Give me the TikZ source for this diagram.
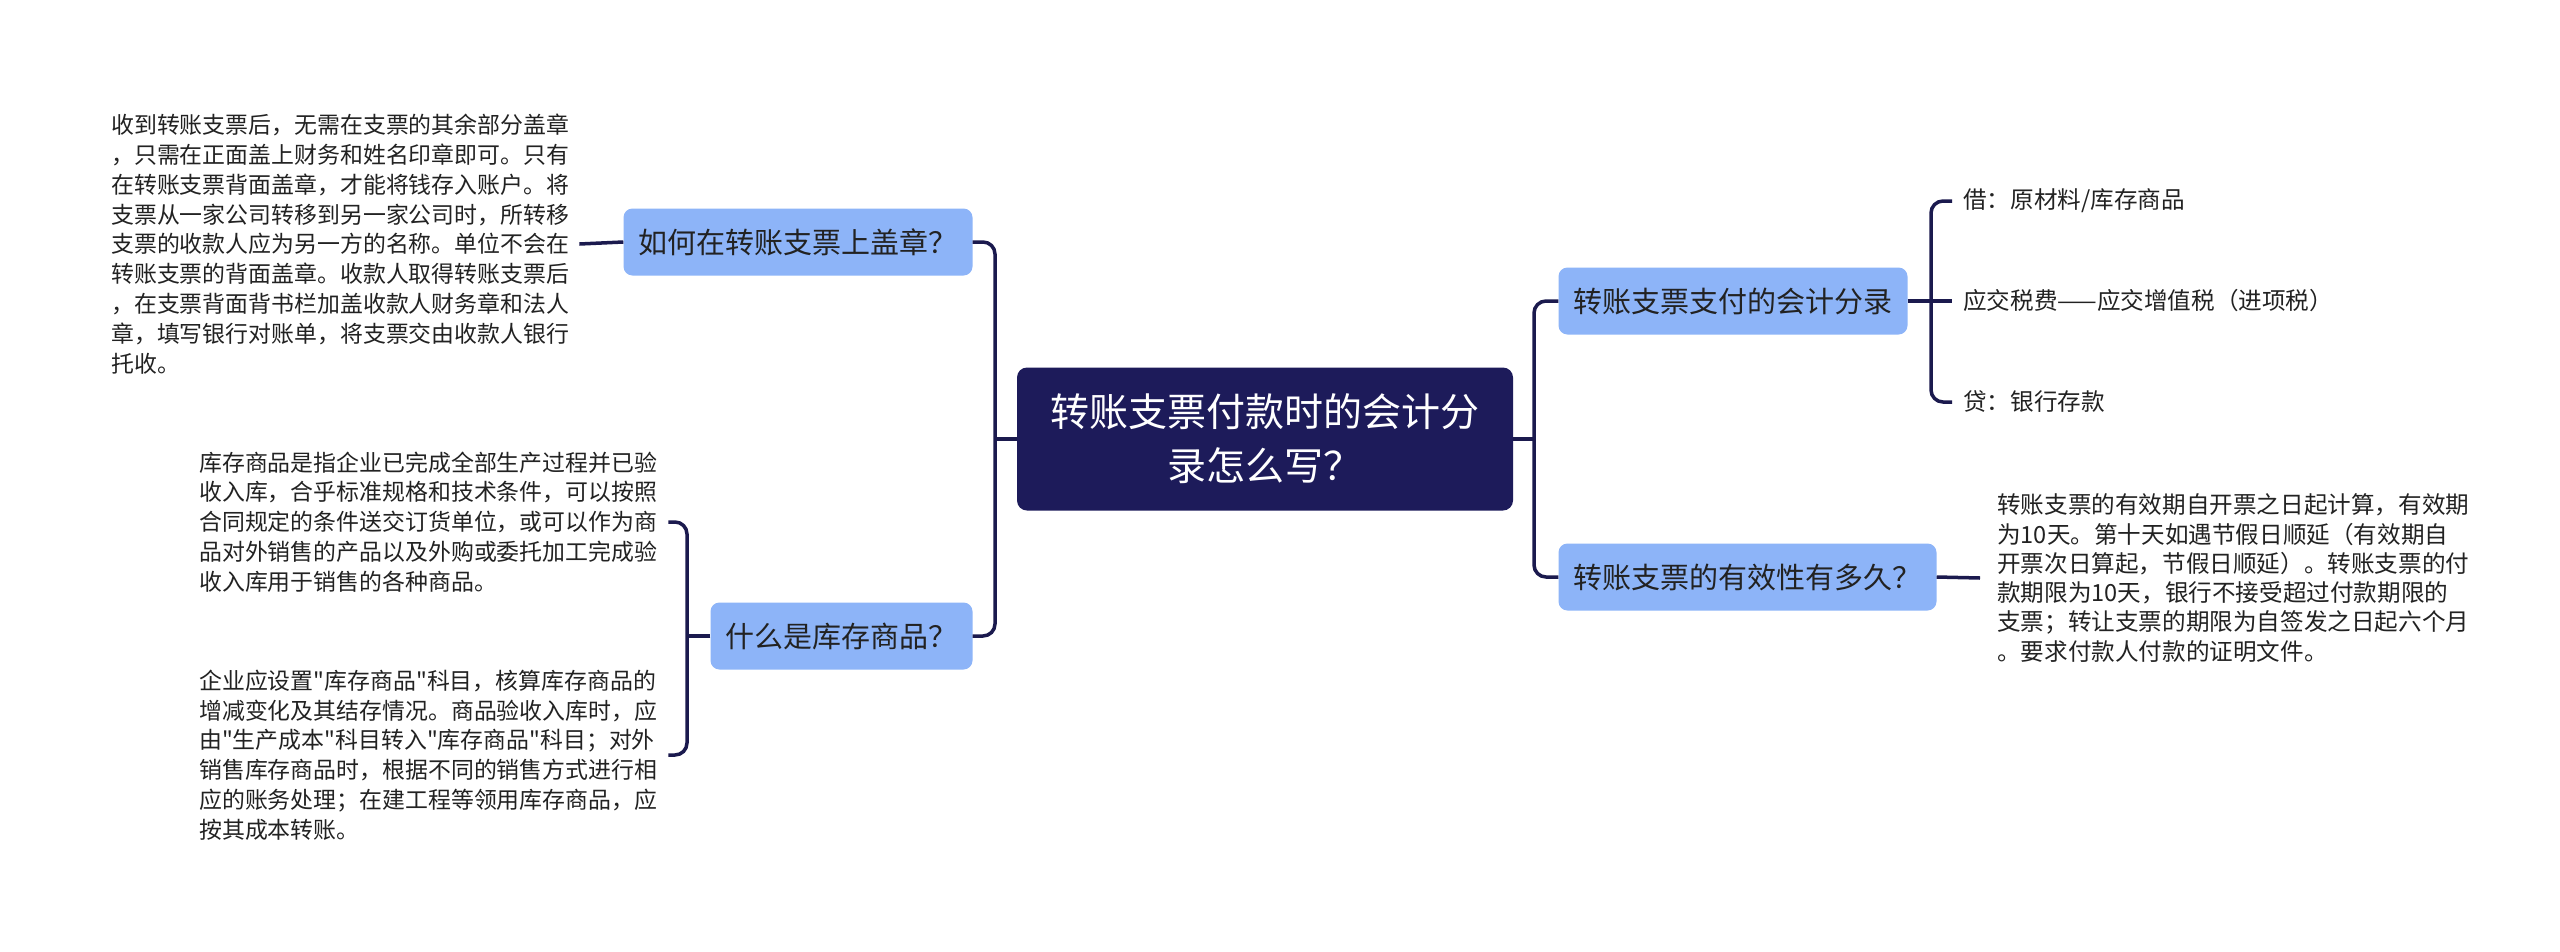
\documentclass[tikz,border=0pt]{standalone}
\usepackage{fontspec}
\newfontfamily\cjk{Noto Sans CJK SC}
\definecolor{navy}{HTML}{1D1B5A}
\definecolor{qblue}{HTML}{8DB4F8}
\definecolor{linec}{HTML}{1B1A4E}
\definecolor{txt}{HTML}{222222}
\begin{document}
\begin{tikzpicture}[x=1pt,y=-1pt,
  conn/.style={draw=linec, line width=3.5pt, rounded corners=12pt},
  rootn/.style={fill=navy, rounded corners=10pt, text=white, align=center,
    minimum width=496pt, minimum height=143pt, inner sep=0pt,
    font=\cjk\fontsize{39}{54}\selectfont},
  topic/.style={fill=qblue, rounded corners=9pt, text=txt, minimum height=67pt,
    inner xsep=15pt, inner ysep=0pt, font=\cjk\fontsize{29}{35}\selectfont},
  leftnote/.style={anchor=west, align=left, text width=456pt, inner sep=0pt,
    text=txt, font=\cjk\fontsize{22.9}{29.8}\selectfont},
  rightnote/.style={anchor=west, align=left, inner sep=0pt, text=txt,
    font=\cjk\fontsize{23.6}{29.3}\selectfont}]
\useasboundingbox[fill=white] (0,0) rectangle (2560,951);

\node[rootn] (root) at (1265,439) {转账支票付款时的会计分\\录怎么写？};

\node[topic] (q1) at (798,242) {如何在转账支票上盖章？};
\node[topic] (q2) at (841.5,636) {什么是库存商品？};
\node[topic] (q3) at (1733,301) {转账支票支付的会计分录};
\node[topic] (q4) at (1747.5,577) {转账支票的有效性有多久？};

\node[leftnote] (t1) at (111,244) {收到转账支票后，无需在支票的其余部分盖章\\，只需在正面盖上财务和姓名印章即可。只有\\在转账支票背面盖章，才能将钱存入账户。将\\支票从一家公司转移到另一家公司时，所转移\\支票的收款人应为另一方的名称。单位不会在\\转账支票的背面盖章。收款人取得转账支票后\\，在支票背面背书栏加盖收款人财务章和法人\\章，填写银行对账单，将支票交由收款人银行\\托收。};

\node[leftnote] (t2) at (199,522) {库存商品是指企业已完成全部生产过程并已验\\收入库，合乎标准规格和技术条件，可以按照\\合同规定的条件送交订货单位，或可以作为商\\品对外销售的产品以及外购或委托加工完成验\\收入库用于销售的各种商品。};

\node[leftnote] (t3) at (199,755) {企业应设置"库存商品"科目，核算库存商品的\\增减变化及其结存情况。商品验收入库时，应\\由"生产成本"科目转入"库存商品"科目；对外\\销售库存商品时，根据不同的销售方式进行相\\应的账务处理；在建工程等领用库存商品，应\\按其成本转账。};

\node[rightnote] (d1) at (1963,201) {借：原材料/库存商品};
\node[rightnote] (d2) at (1963,301) {应交税费——应交增值税（进项税）};
\node[rightnote] (d3) at (1963,402) {贷：银行存款};

\node[rightnote] (t4) at (1997,578) {转账支票的有效期自开票之日起计算，有效期\\为10天。第十天如遇节假日顺延（有效期自\\开票次日算起，节假日顺延）。转账支票的付\\款期限为10天，银行不接受超过付款期限的\\支票；转让支票的期限为自签发之日起六个月\\。要求付款人付款的证明文件。};

\coordinate (lt) at (995,439);
\coordinate (rt) at (1534,439);
\coordinate (lq2) at (687,636);
\coordinate (r3) at (1931,301);

\draw[conn] (root.west) -- (lt);
\draw[conn] (q1.east) -| (lt) |- (q2.east);
\draw[conn] (root.east) -- (rt);
\draw[conn] (q3.west) -| (rt) |- (q4.west);

\draw[conn] (q1.west) -- ([xshift=12pt]t1.east);
\draw[conn] (q2.west) -- (lq2);
\draw[conn] ([xshift=13pt]t2.east) -| (lq2) |- ([xshift=13pt]t3.east);

\draw[conn] (q3.east) -- ([xshift=-11pt]d2.west);
\draw[conn] ([xshift=-11pt]d1.west) -| (r3) |- ([xshift=-11pt]d3.west);
\draw[conn] (q4.east) -- ([xshift=-17pt]t4.west);
\end{tikzpicture}
\end{document}
